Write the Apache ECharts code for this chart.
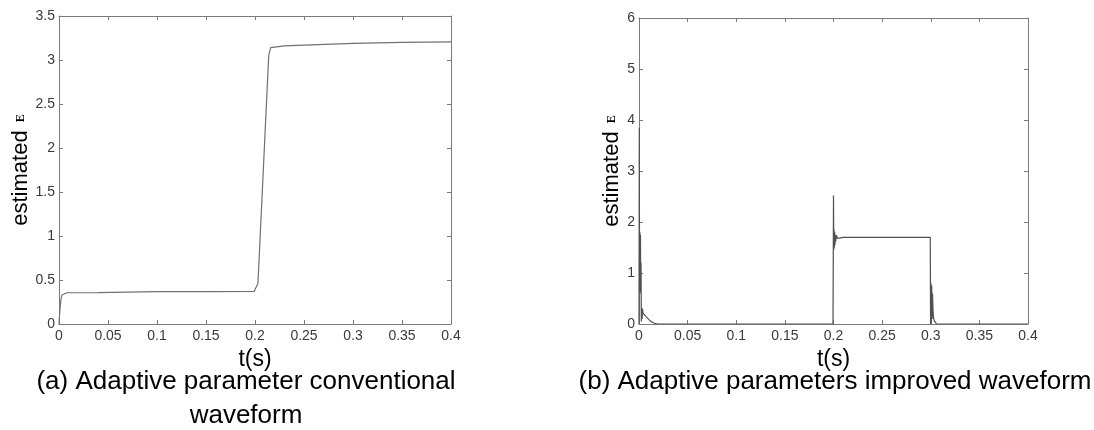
<!DOCTYPE html>
<html>
<head>
<meta charset="utf-8">
<script src="https://cdn.jsdelivr.net/npm/echarts@6/dist/echarts.min.js"></script>
<style>
  html, body { margin: 0; padding: 0; background: #fff; }
  #chart { width: 1094px; height: 430px; }
</style>
</head>
<body>
<div id="chart"></div>
<script>
// (a) conventional adaptive estimate: time (s) and estimated value
const timeA = [0, 0.001, 0.002, 0.003, 0.005, 0.008, 0.04, 0.042, 0.1, 0.15, 0.199, 0.201, 0.203, 0.214, 0.216, 0.218, 0.23, 0.25, 0.3, 0.35, 0.4];
const valueA = [0, 0.17, 0.28, 0.33, 0.35, 0.355, 0.357, 0.366, 0.367, 0.368, 0.37, 0.39, 0.46, 3.05, 3.14, 3.155, 3.16, 3.17, 3.19, 3.2, 3.205];

// (b) improved adaptive estimate: time (s) and estimated value
const timeB = [0, 0.0003, 0.0006, 0.0009, 0.0012, 0.0015, 0.0018, 0.0021, 0.0024, 0.0028, 0.0032, 0.0036, 0.004, 0.005, 0.007, 0.01, 0.013, 0.016, 0.019, 0.1, 0.1995,
               0.2, 0.2003, 0.2006, 0.2009, 0.2012, 0.2015, 0.2018, 0.2022, 0.203, 0.204, 0.206, 0.21, 0.25, 0.2995,
               0.2998, 0.3003, 0.3006, 0.301, 0.3014, 0.3018, 0.3024, 0.303, 0.304, 0.306, 0.4];
const valueB = [0, 3.85, 0.65, 1.8, 0.7, 1.75, 0.6, 1.2, 0.05, 0.32, 0.1, 0.3, 0.22, 0.2, 0.15, 0.09, 0.04, 0.015, 0, 0, 0,
                2.52, 1.45, 1.85, 1.5, 1.8, 1.55, 1.75, 1.62, 1.74, 1.68, 1.71, 1.7, 1.7, 1.7,
                0, 0.8, 0.05, 0.75, 0.1, 0.6, 0.25, 0.1, 0.05, 0, 0];

// axis ticks
const xTicks = { min: 0, max: 0.4, interval: 0.05 };
const yTicksA = { min: 0, max: 3.5, interval: 0.5 };
const yTicksB = { min: 0, max: 6, interval: 1 };

const xTitle = 't(s)';
const yTitle = 'estimated {e|E}';
const captionA = ['(a) Adaptive parameter conventional', 'waveform'];
const captionB = '(b) Adaptive parameters improved waveform';

const FONT = '"Liberation Sans", Arial, sans-serif';
const AXIS_COLOR = '#7a7a7a';
const LABEL_COLOR = '#3a3a3a';

function pairs(xs, ys) { return xs.map((x, i) => [x, ys[i]]); }

function fmt(v) { return String(+v.toFixed(4)); }

function xAxisPair(gridIndex) {
  const base = {
    type: 'value', gridIndex, min: xTicks.min, max: xTicks.max, interval: xTicks.interval,
    splitLine: { show: false },
    axisLine: { show: true, onZero: false, lineStyle: { color: AXIS_COLOR, width: 1 } },
    axisTick: { show: true, inside: true, length: 4, lineStyle: { color: AXIS_COLOR } }
  };
  return [
    Object.assign({}, base, {
      position: 'bottom',
      axisLabel: { color: LABEL_COLOR, fontFamily: FONT, fontSize: 14, margin: 5, formatter: fmt },
      name: xTitle, nameLocation: 'middle', nameGap: 18,
      nameTextStyle: { color: '#000', fontFamily: FONT, fontSize: 23 }
    }),
    Object.assign({}, base, { position: 'top', axisLabel: { show: false } })
  ];
}

function yAxisPair(gridIndex, t, gap) {
  const base = {
    type: 'value', gridIndex, min: t.min, max: t.max, interval: t.interval,
    splitLine: { show: false },
    axisLine: { show: true, onZero: false, lineStyle: { color: AXIS_COLOR, width: 1 } },
    axisTick: { show: true, inside: true, length: 4, lineStyle: { color: AXIS_COLOR } }
  };
  return [
    Object.assign({}, base, {
      position: 'left',
      axisLabel: { color: LABEL_COLOR, fontFamily: FONT, fontSize: 14, margin: 4, formatter: fmt },
      name: yTitle, nameLocation: 'middle', nameGap: gap, nameRotate: 90,
      nameTextStyle: {
        color: '#000', fontFamily: FONT, fontSize: 22,
        rich: { e: { fontFamily: '"Liberation Serif", "DejaVu Serif", serif', fontSize: 12, fontWeight: 'bold', color: '#000', padding: [0, 0, 0, 2] } }
      }
    }),
    Object.assign({}, base, { position: 'right', axisLabel: { show: false } })
  ];
}

const chart = echarts.init(document.getElementById('chart'), null, { renderer: 'canvas' });

chart.setOption({
  animation: false,
  backgroundColor: '#fff',
  grid: [
    { left: 59, right: 643, top: 16, bottom: 106 },
    { left: 639, right: 66, top: 18, bottom: 106 }
  ],
  xAxis: [...xAxisPair(0), ...xAxisPair(1)],
  yAxis: [...yAxisPair(0, yTicksA, 22), ...yAxisPair(1, yTicksB, 16)],
  series: [
    {
      type: 'line', xAxisIndex: 0, yAxisIndex: 0, data: pairs(timeA, valueA),
      showSymbol: false, symbol: 'none', smooth: false,
      lineStyle: { color: '#707070', width: 1.2 }
    },
    {
      type: 'line', xAxisIndex: 2, yAxisIndex: 2, data: pairs(timeB, valueB),
      showSymbol: false, symbol: 'none', smooth: false,
      lineStyle: { color: '#505050', width: 1.2 }
    }
  ],
  graphic: [
    { type: 'text', x: 246, y: 382, style: { text: captionA[0], fill: '#000', font: '26px ' + FONT, textAlign: 'center', textVerticalAlign: 'middle' } },
    { type: 'text', x: 246, y: 416, style: { text: captionA[1], fill: '#000', font: '26px ' + FONT, textAlign: 'center', textVerticalAlign: 'middle' } },
    { type: 'text', x: 835, y: 382, style: { text: captionB, fill: '#000', font: '26px ' + FONT, textAlign: 'center', textVerticalAlign: 'middle' } }
  ]
});
</script>
</body>
</html>
